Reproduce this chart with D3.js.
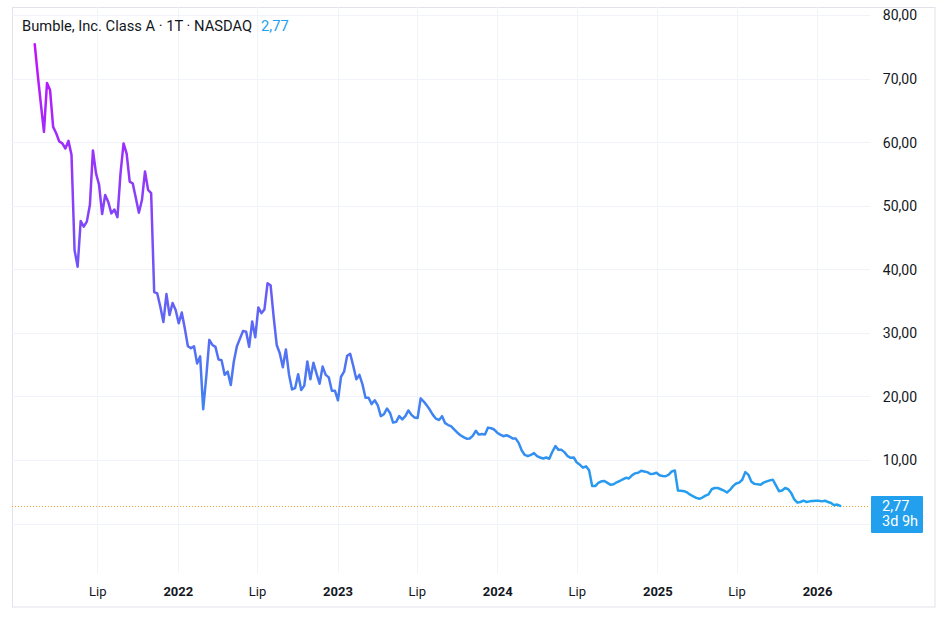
<!DOCTYPE html>
<html>
<head>
<meta charset="utf-8">
<script src="https://cdn.jsdelivr.net/npm/d3@7"></script>
<style>
  body { margin: 0; background: #fff; }
  svg { display: block; }
</style>
</head>
<body>
<div id="chart"></div>
<script>
// weekly closes
var title = "Bumble, Inc. Class A · 1T · NASDAQ";
var lastLabel = "2,77";
var countdown = "3d 9h";
var firstWeek = "2021-02-08";
var closes = [
  75.4, 70.5, 66.0, 61.6, 69.3, 68.2, 62.4, 61.4, 60.1, 59.8,
  59.0, 60.2, 58.0, 43.0, 40.4, 47.6, 46.7, 47.5, 50.1, 58.7,
  55.1, 53.3, 48.7, 51.7, 50.6, 48.8, 49.4, 48.2, 55.1, 59.8,
  58.2, 53.8, 53.5, 51.2, 48.9, 50.9, 55.4, 52.5, 52.0, 36.4,
  36.2, 34.1, 31.7, 36.1, 32.8, 34.7, 33.6, 31.5, 33.2, 30.7,
  27.9, 27.6, 27.9, 25.2, 26.3, 18.0, 23.1, 28.9, 28.1, 27.8,
  25.8, 25.7, 23.4, 23.9, 21.8, 25.5, 27.9, 29.1, 30.3, 30.2,
  27.8, 31.8, 29.3, 34.0, 33.1, 33.7, 37.8, 37.5, 32.5, 28.1,
  26.8, 24.6, 27.4, 23.5, 21.1, 21.3, 23.5, 21.0, 21.7, 25.5,
  22.7, 25.3, 23.6, 22.0, 24.7, 23.4, 23.0, 20.9, 20.9, 19.4,
  23.1, 23.9, 26.4, 26.7, 24.8, 22.7, 23.4, 21.9, 19.8, 19.8,
  18.8, 19.4, 18.6, 16.9, 17.2, 18.1, 17.4, 15.9, 16.0, 16.9,
  16.4, 16.9, 17.8, 17.1, 16.7, 16.6, 19.7, 19.2, 18.6, 17.9,
  17.1, 16.5, 16.3, 16.9, 15.8, 15.5, 15.3, 14.8, 14.3, 13.9,
  13.6, 13.35, 13.4, 13.8, 14.6, 14.0, 14.1, 14.0, 15.1, 15.0,
  14.8, 14.3, 14.0, 13.75, 13.9, 13.7, 13.4, 13.4, 12.7, 11.5,
  10.8, 10.6, 10.8, 11.1, 10.6, 10.4, 10.25, 10.4, 10.2, 11.3,
  12.2, 11.6, 11.6, 11.2, 10.6, 10.35, 10.4, 9.6, 9.25, 8.8,
  9.0, 8.4, 5.9, 5.9, 6.4, 6.65, 6.7, 6.4, 6.1, 6.2,
  6.5, 6.7, 6.95, 7.2, 7.1, 7.6, 7.9, 8.0, 8.3, 8.2,
  8.1, 7.8, 7.85, 8.0, 7.6, 7.5, 7.45, 7.7, 8.2, 8.35,
  5.2, 5.15, 5.1, 4.9, 4.55, 4.3, 4.05, 3.9, 4.1, 4.4,
  4.6, 5.4, 5.6, 5.6, 5.4, 5.2, 4.9, 5.3, 5.9, 6.3,
  6.45, 6.9, 8.1, 7.7, 6.6, 6.25, 6.2, 6.1, 6.45, 6.65,
  6.8, 6.9, 6.0, 5.1, 5.2, 5.6, 5.4, 4.8, 3.8, 3.3,
  3.4, 3.6, 3.4, 3.5, 3.55, 3.6, 3.6, 3.5, 3.6, 3.4,
  3.25, 2.9, 3.0, 2.77
];
var yTicks = [0, 10, 20, 30, 40, 50, 60, 70, 80];
var yLabelTicks = [10, 20, 30, 40, 50, 60, 70, 80]; // 0,00 sits under the price box
var xTicks = ["2021-07-01", "2022-01-01", "2022-07-01", "2023-01-01", "2023-07-01",
              "2024-01-01", "2024-07-01", "2025-01-01", "2025-07-01", "2026-01-01"];
var xTickLabels = ["Lip", "2022", "Lip", "2023", "Lip", "2024", "Lip", "2025", "Lip", "2026"];

var W = 948, H = 620;
var plotL = 12, plotT = 7, plotR = 870, plotB = 573;
var font = "Roboto, 'Liberation Sans', sans-serif";
var parseDay = d3.utcParse("%Y-%m-%d");
var pl = d3.formatLocale({decimal: ",", thousands: " ", grouping: [3], currency: ["", " zł"]});
var fmt = pl.format(".2f");

var start = parseDay(firstWeek);
var points = closes.map(function(v, i) {
  return {date: d3.utcWeek.offset(start, i), close: v};
});
var last = points[points.length - 1];

var x = d3.scaleUtc()
  .domain([parseDay("2020-12-18"), parseDay("2026-05-02")])
  .range([plotL, plotR]);
var y = d3.scaleLinear()
  .domain([-7.77, 81.26])
  .range([plotB, plotT]);

var svg = d3.select("#chart").append("svg")
  .attr("width", W)
  .attr("height", H);

// frame
svg.append("rect")
  .attr("x", 12.5).attr("y", 7.5)
  .attr("width", 935 - 12.5).attr("height", 607 - 7.5)
  .style("fill", "none")
  .style("stroke", "#e0e3eb")
  .style("stroke-width", 1);

// grid
svg.append("g").selectAll("line")
  .data(yTicks).enter().append("line")
  .attr("x1", plotL).attr("x2", plotR)
  .attr("y1", function(d) { return Math.round(y(d)) + 0.5; })
  .attr("y2", function(d) { return Math.round(y(d)) + 0.5; })
  .style("stroke", "#f0f3fa");
svg.append("g").selectAll("line")
  .data(xTicks).enter().append("line")
  .attr("x1", function(d) { return Math.round(x(parseDay(d))) + 0.5; })
  .attr("x2", function(d) { return Math.round(x(parseDay(d))) + 0.5; })
  .attr("y1", plotT).attr("y2", plotB)
  .style("stroke", "#f0f3fa");

// y axis labels on the right
var yAxis = svg.append("g")
  .attr("transform", "translate(" + 917 + ",0)")
  .call(d3.axisLeft(y).tickValues(yLabelTicks).tickSize(0).tickFormat(fmt));
yAxis.select(".domain").remove();
yAxis.selectAll("text")
  .attr("x", 0)
  .attr("dy", "0.35em")
  .style("font-family", font)
  .style("font-size", "14px")
  .style("fill", "#131722");

// x axis labels
var xAxis = svg.append("g")
  .attr("transform", "translate(0," + 584 + ")")
  .call(d3.axisBottom(x)
    .tickValues(xTicks.map(parseDay))
    .tickSize(0)
    .tickFormat(function(d, i) { return xTickLabels[i]; }));
xAxis.select(".domain").remove();
xAxis.selectAll("text")
  .attr("dy", "0.71em")
  .style("font-family", font)
  .style("font-size", "13px")
  .style("fill", "#131722")
  .style("font-weight", function(d, i) { return /\d/.test(xTickLabels[i]) ? "bold" : "normal"; });

// gradient for the line, purple at the top -> blue at the bottom
var grad = svg.append("defs").append("linearGradient")
  .attr("id", "lineGrad")
  .attr("gradientUnits", "userSpaceOnUse")
  .attr("x1", 0).attr("x2", 0)
  .attr("y1", y(d3.max(closes))).attr("y2", y(d3.min(closes)));
grad.append("stop").attr("offset", "0%").attr("stop-color", "#c40fff");
grad.append("stop").attr("offset", "45%").attr("stop-color", "#7550f7");
grad.append("stop").attr("offset", "100%").attr("stop-color", "#20a2ee");

// last price dotted line
svg.append("line")
  .attr("x1", plotL).attr("x2", plotR)
  .attr("y1", Math.round(y(last.close)) + 0.5)
  .attr("y2", Math.round(y(last.close)) + 0.5)
  .style("stroke", "#f0a23a")
  .style("stroke-width", 1)
  .style("stroke-dasharray", "1,2");

var line = d3.line()
  .x(function(d) { return x(d.date); })
  .y(function(d) { return y(d.close); });

svg.append("path")
  .datum(points)
  .attr("d", line)
  .style("fill", "none")
  .style("stroke", "url(#lineGrad)")
  .style("stroke-width", 2.5)
  .style("stroke-linejoin", "round")
  .style("stroke-linecap", "round");

// price label box
var ly = y(last.close);
svg.append("rect")
  .attr("x", 871).attr("y", ly - 10)
  .attr("width", 52).attr("height", 37)
  .attr("rx", 1)
  .style("fill", "#22a0ee");
svg.append("text")
  .attr("x", 882).attr("y", ly + 5)
  .text(lastLabel)
  .style("font-family", font)
  .style("font-size", "14.5px")
  .style("fill", "#fff");
svg.append("text")
  .attr("x", 882).attr("y", ly + 20.5)
  .text(countdown)
  .style("font-family", font)
  .style("font-size", "14.5px")
  .style("fill", "#fff");

// title
var t = svg.append("text")
  .attr("x", 22).attr("y", 31)
  .style("font-family", font)
  .style("font-size", "14.7px");
t.append("tspan").text(title).style("fill", "#131722");
t.append("tspan").attr("dx", 9).text(lastLabel).style("fill", "#22a0ee");
</script>
</body>
</html>
